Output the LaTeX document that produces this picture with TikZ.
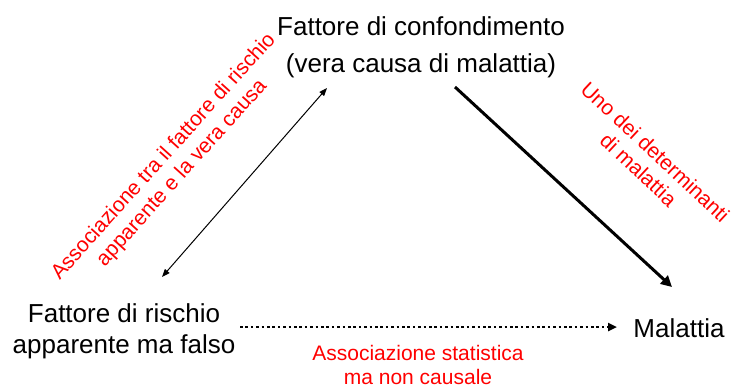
\documentclass[tikz,border=0pt]{standalone}
\usepackage{fontspec}
\setmainfont{Liberation Sans}
\usetikzlibrary{arrows.meta}
\begin{document}
\begin{tikzpicture}[x=1pt,y=-1pt,
  blk/.style={font=\fontsize{26}{37}\selectfont, align=center, inner sep=0pt},
  redlbl/.style={text=red, font=\fontsize{21}{24.5}\selectfont, align=center, inner sep=0pt},
  thinarr/.style={line width=1pt, {Triangle[length=8pt,width=6pt]}-{Triangle[length=8pt,width=6pt]}},
  thickarr/.style={line width=3pt, -{Triangle[length=11pt,width=11pt]}},
  dotarr/.style={line width=2.6pt, dash pattern=on 2.6pt off 2.8pt, -{Triangle[length=9pt,width=8pt]}}
]
\useasboundingbox (0,0) rectangle (736,388);
\node[blk, anchor=base] (conf) at (421,72) {Fattore di confondimento\\(vera causa di malattia)};
\node[blk, font=\fontsize{26}{31}\selectfont, anchor=base] (risk) at (124,353) {Fattore di rischio\\apparente ma falso};
\node[blk, anchor=base] (mal) at (679,337) {Malattia};
\node[redlbl, rotate=48] (lassoc) at (173,165) {Associazione tra il fattore di rischio\\apparente e la vera causa};
\node[redlbl, rotate=-43] (rdet) at (647,161) {Uno dei determinanti\\di malattia};
\node[redlbl, anchor=base] (bassoc) at (418,384.5) {Associazione statistica\\ma non causale};
\coordinate (a1) at (162,277);
\coordinate (a2) at (327,88);
\coordinate (b1) at (455,87);
\coordinate (b2) at (672,287);
\coordinate (c1) at (240,327);
\coordinate (c2) at (617,327);
\draw[thinarr] (a1) -- (a2);
\draw[thickarr] (b1) -- (b2);
\draw[dotarr] (c1) -- (c2);
\end{tikzpicture}
\end{document}
